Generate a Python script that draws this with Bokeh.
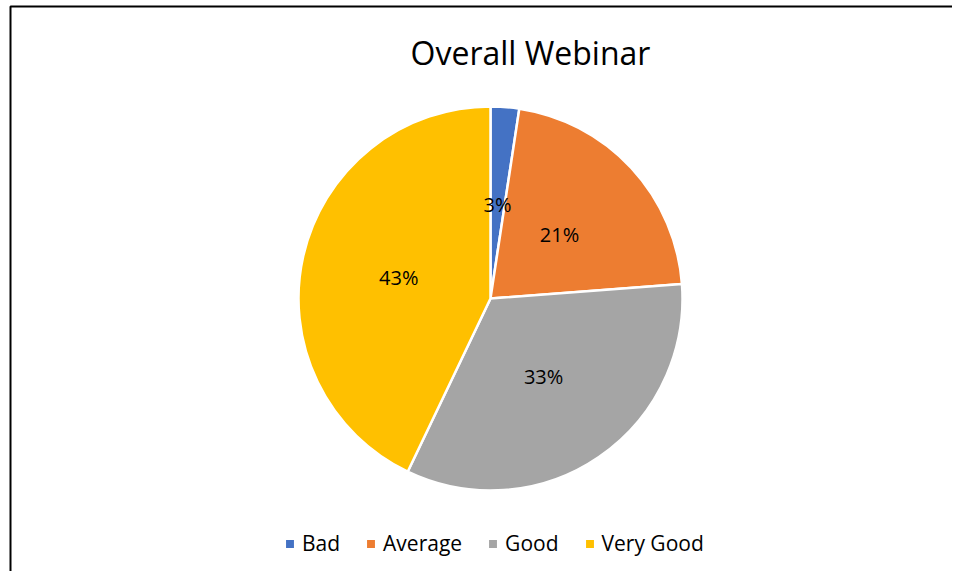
import math
from bokeh.plotting import figure
from bokeh.models import ColumnDataSource, Range1d, BoxAnnotation, Label, Legend, LegendItem
from bokeh.core.properties import value
from bokeh.embed import file_html
from bokeh.resources import INLINE

# ---- data ----
categories = ["Bad", "Average", "Good", "Very Good"]
shares = [2.4, 21.4, 33.3, 42.9]          # slice sizes (%)
pct_labels = ["3%", "21%", "33%", "43%"]   # data labels as printed
colors = ["#4472C4", "#ED7D31", "#A5A5A5", "#FFC000"]
title_text = "Overall Webinar"

# ---- layout (pixel-space ranges) ----
W, H = 952, 571
cx, cy, R = 490, H - 298, 192
FONT = "Open Sans"

total = sum(shares)
starts, ends, lx, ly = [], [], [], []
acc = 0.0
for s in shares:
    a0 = math.pi / 2 - 2 * math.pi * acc / total
    acc += s
    a1 = math.pi / 2 - 2 * math.pi * acc / total
    starts.append(a0)
    ends.append(a1)
    mid = (a0 + a1) / 2
    lx.append(cx + 0.49 * R * math.cos(mid))
    ly.append(cy + 0.49 * R * math.sin(mid))

src = ColumnDataSource(dict(cat=categories, start=starts, end=ends,
                            color=colors, lab=pct_labels, lx=lx, ly=ly))

p = figure(width=W, height=H, output_backend="svg", toolbar_location=None,
           x_range=Range1d(0, W), y_range=Range1d(0, H),
           x_axis_type=None, y_axis_type=None, min_border=0)
p.grid.visible = False
p.outline_line_color = None
p.background_fill_color = "white"
p.border_fill_color = "white"

# chart-area border (only left and top edges fall inside the picture)
p.add_layout(BoxAnnotation(left=10, right=W + 20, bottom=-20, top=H - 6,
                           fill_alpha=0, line_color="black", line_alpha=1,
                           line_width=2))

wr = p.wedge(x=cx, y=cy, radius=R, start_angle="start", end_angle="end",
             direction="clock", fill_color="color", line_color="white",
             line_width=2.5, source=src)

p.text(x="lx", y="ly", text="lab", source=src, text_align="center",
       text_baseline="middle", text_font=value(FONT), text_font_size="20px",
       text_color="black")

p.add_layout(Label(x=530, y=H - 52, text=title_text, text_align="center",
                   text_baseline="middle", text_font=FONT,
                   text_font_size="32px", text_color="black"))

legend = Legend(items=[LegendItem(label=c, renderers=[wr], index=i)
                       for i, c in enumerate(categories)],
                orientation="horizontal", location=(283, 14),
                border_line_color=None, background_fill_alpha=0,
                label_text_font=FONT, label_text_font_size="21px",
                label_text_color="black",
                glyph_width=13, glyph_height=13, label_standoff=6,
                spacing=24, padding=0, margin=0)
p.add_layout(legend)

open("out.html", "w").write(file_html(p, INLINE))
